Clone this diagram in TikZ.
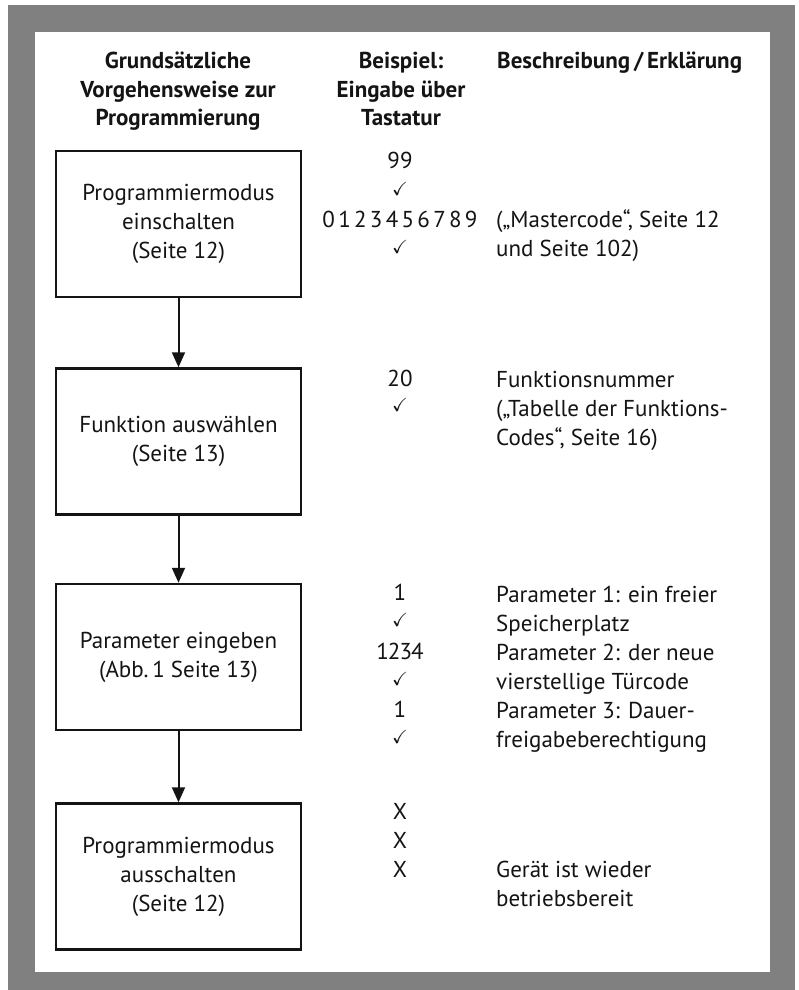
\documentclass[tikz,border=0pt]{standalone}
\usepackage{amssymb}
\usepackage{fontspec}
\setmainfont{PT Sans}
\usetikzlibrary{arrows.meta}
\definecolor{framegray}{RGB}{128,128,128}
\definecolor{ink}{RGB}{20,20,20}
% thin check mark used in the key column
\newcommand\tick{{\fontsize{19}{19}\selectfont$\checkmark$}}
\begin{document}
\begin{tikzpicture}[x=1pt,y=-1pt,
  font=\fontsize{23}{29}\selectfont,
  every node/.style={text=ink},
  stepbox/.style={draw=ink, line width=2.5pt, minimum width=245pt,
    minimum height=146pt, align=center, inner sep=0pt},
  flow/.style={draw=ink, line width=2pt, -{Triangle[length=15pt,width=13pt]}},
  head/.style={font=\bfseries\fontsize{23}{29}\selectfont, anchor=base, inner sep=0pt},
  key/.style={anchor=base, inner sep=0pt},
  note/.style={anchor=base west, inner sep=0pt}]
\useasboundingbox (0,0) rectangle (798,990);
% frame
\fill[framegray] (8,5) rectangle (795,990);
\fill[white] (35,32) rectangle (770,972);

% column headings
\node[head] (h1a) at (178,68) {Grundsätzliche};
\node[head] (h1b) at (178,97) {Vorgehensweise zur};
\node[head] (h1c) at (178,125) {Programmierung};
\node[head] (h2a) at (401,68) {Beispiel:};
\node[head] (h2b) at (401,97) {Eingabe über};
\node[head] (h2c) at (401,125) {Tastatur};
\node[head, anchor=base west] (h3) at (497,68) {Beschreibung\,/\,Erklärung};

% steps
\node[stepbox] (s1) at (178.5,224) {Programmiermodus\\einschalten\\(Seite 12)};
\node[stepbox] (s2) at (178.5,441.5) {Funktion auswählen\\(Seite 13)};
\node[stepbox] (s3) at (178.5,657) {Parameter eingeben\\(Abb.\,1 Seite 13)};
\node[stepbox] (s4) at (178.5,876.5) {Programmiermodus\\ausschalten\\(Seite 12)};

\draw[flow] (s1.south) -- (s2.north);
\draw[flow] (s2.south) -- (s3.north);
\draw[flow] (s3.south) -- (s4.north);

% step 1: keys and notes
\node[key] (k1a) at (400,168) {99};
\node[key] (k1b) at (400,195) {\tick};
\node[key] (k1c) at (400,227) {0\kern3.3pt 1\kern3.3pt 2\kern3.3pt 3\kern3.3pt 4\kern3.3pt 5\kern3.3pt 6\kern3.3pt 7\kern3.3pt 8\kern3.3pt 9};
\node[key] (k1d) at (400,253) {\tick};
\node[note] (n1a) at (496,227) {(„Mastercode“, Seite 12};
\node[note] (n1b) at (496,256) {und Seite 102)};

% step 2
\node[key] (k2a) at (400,386) {20};
\node[key] (k2b) at (400,411) {\tick};
\node[note] (n2a) at (496,387) {Funktionsnummer};
\node[note] (n2b) at (496,416) {(„Tabelle der Funktions-};
\node[note] (n2c) at (496,445) {Codes“, Seite 16)};

% step 3
\node[key] (k3a) at (400,600) {1};
\node[key] (k3b) at (400,626) {\tick};
\node[key] (k3c) at (400,659) {1\kern-1pt 2\kern-1pt 3\kern-1pt 4};
\node[key] (k3d) at (400,685) {\tick};
\node[key] (k3e) at (400,717) {1};
\node[key] (k3f) at (400,743) {\tick};
\node[note] (n3a) at (496,602) {Parameter 1: ein freier};
\node[note] (n3b) at (496,631) {Speicherplatz};
\node[note] (n3c) at (496,660) {Parameter 2: der neue};
\node[note] (n3d) at (496,689) {vierstellige Türcode};
\node[note] (n3e) at (496,718) {Parameter 3: Dauer-};
\node[note] (n3f) at (496,747) {freigabeberechtigung};

% step 4
\node[key] (k4a) at (400,819) {X};
\node[key] (k4b) at (400,848) {X};
\node[key] (k4c) at (400,877) {X};
\node[note] (n4a) at (496,877) {Gerät ist wieder};
\node[note] (n4b) at (496,906) {betriebsbereit};
\end{tikzpicture}
\end{document}
